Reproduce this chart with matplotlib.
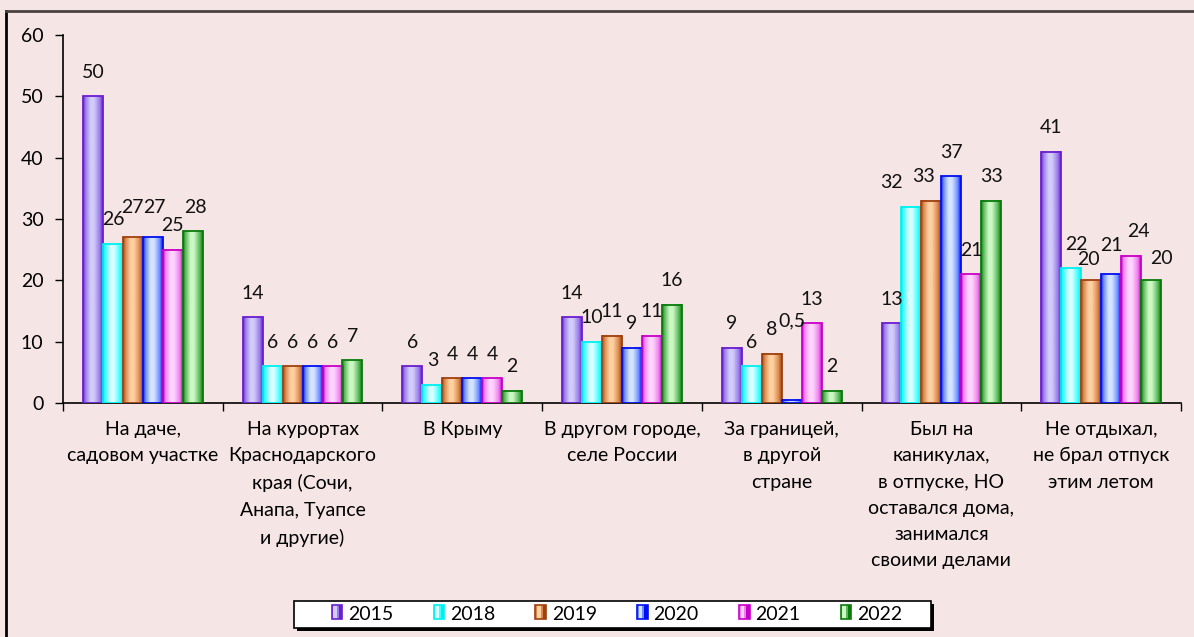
import numpy as np
import matplotlib
matplotlib.use("Agg")
import matplotlib.pyplot as plt
from matplotlib.colors import LinearSegmentedColormap
from matplotlib.patches import Rectangle
from matplotlib.legend_handler import HandlerBase

categories = [
    "На даче,\nсадовом участке",
    "На курортах\nКраснодарского\nкрая (Сочи,\nАнапа, Туапсе\nи другие)",
    "В Крыму",
    "В другом городе,\nселе России",
    "За границей,\nв другой\nстране",
    "Был на\nканикулах,\nв отпуске, НО\nоставался дома,\nзанимался\nсвоими делами",
    "Не отдыхал,\nне брал отпуск\nэтим летом",
]
years = ["2015", "2018", "2019", "2020", "2021", "2022"]
v2015 = [50, 14, 6, 14, 9, 13, 41]
v2018 = [26, 6, 3, 10, 6, 32, 22]
v2019 = [27, 6, 4, 11, 8, 33, 20]
v2020 = [27, 6, 4, 9, 0.5, 37, 21]
v2021 = [25, 6, 4, 11, 13, 21, 24]
v2022 = [28, 7, 2, 16, 2, 33, 20]
series = [v2015, v2018, v2019, v2020, v2021, v2022]
yticks = [0, 10, 20, 30, 40, 50, 60]

# (edge, mid, light)
palette = [
    ("#6A1ED0", "#9A7CE8", "#D2CCFA"),
    ("#00F0F0", "#40FFFF", "#D8FFFF"),
    ("#A0400F", "#D8884E", "#FFD0A0"),
    ("#0010F0", "#6C8CFF", "#D4E4FF"),
    ("#C800C8", "#EE82EE", "#FFD4FF"),
    ("#0A7A0A", "#5CB85C", "#CCF8C4"),
]

# label nudges in pixels (dx, dy) for labels Excel moved
nudges = {
    (0, 2): (0, 6), (0, 3): (2, 6), (0, 5): (3, 0),
    (5, 1): (-20, 0), (5, 2): (-8, 0),
    (4, 3): (0, 55),
    (6, 1): (5, 0), (6, 2): (-3, -3), (6, 3): (0, 5), (6, 4): (7, 0), (6, 5): (10, -2),
}

FS = 14
W, H = 1194, 637
bg = "#F5E5E5"
plt.rcParams["font.family"] = ["Lato", "DejaVu Sans"]
fig = plt.figure(figsize=(W / 100, H / 100), dpi=100, facecolor=bg)
ax = fig.add_axes([63 / W, 1 - 403 / H, (1181 - 63) / W, (403 - 35) / H])
ax.set_facecolor(bg)

n = len(categories)
x = np.arange(n) + 0.5
w = 0.125
grad = np.linspace(0, 1, 64)[None, :]

for j, vals in enumerate(series):
    edge, mid, light = palette[j]
    cmap = LinearSegmentedColormap.from_list(
        f"c{j}", [(0, edge), (0.12, mid), (0.38, light), (0.55, light), (0.85, mid), (1, edge)])
    offs = (j - 2.5) * w
    bars = ax.bar(x + offs, vals, width=w, facecolor="none", edgecolor=edge,
                  linewidth=1.3, zorder=4)
    for i, b in enumerate(bars):
        x0 = b.get_x()
        h = b.get_height()
        ax.imshow(grad, extent=[x0, x0 + w, 0, h], aspect="auto", cmap=cmap,
                  interpolation="bilinear", zorder=3)
        lbl = str(vals[i]).replace(".", ",")
        dx, dy = nudges.get((i, j), (0, 0))
        ax.annotate(lbl, (x0 + w / 2, h), xytext=(dx, 24 + dy),
                    textcoords="offset pixels", ha="center", va="center",
                    fontsize=FS, color="#111111", zorder=6)

ax.set_xlim(0, n)
ax.set_ylim(0, 60)
ax.set_yticks(yticks)
ax.set_yticklabels([str(t) for t in yticks], fontsize=FS)
ax.set_xticks(np.arange(n + 1))
ax.set_xticklabels([])
ax.set_xticks(x, minor=True)
ax.set_xticklabels(categories, minor=True, fontsize=FS, linespacing=1.66,
                   ha="center", va="top")
ax.tick_params(axis="x", which="major", direction="out", length=6, width=1)
ax.tick_params(axis="x", which="minor", length=0, pad=13)
ax.tick_params(axis="y", direction="out", length=6, width=1, pad=8)
for s in ["top", "right"]:
    ax.spines[s].set_visible(False)
for s in ["left", "bottom"]:
    ax.spines[s].set_color("black")
    ax.spines[s].set_linewidth(1.2)


class GradHandler(HandlerBase):
    def __init__(self, j):
        super().__init__()
        self.j = j

    def create_artists(self, legend, orig, xd, yd, width, height, fontsize, trans):
        edge, mid, light = palette[self.j]
        arts = []
        nstrip = 6
        cols = [mid, light, light, mid, edge, edge]
        sw = width / nstrip
        for k in range(nstrip):
            r = Rectangle((xd + k * sw, yd), sw, height, facecolor=cols[k],
                          edgecolor="none", transform=trans)
            arts.append(r)
        r = Rectangle((xd, yd), width, height, facecolor="none", edgecolor=edge,
                      linewidth=1.2, transform=trans)
        arts.append(r)
        return arts


# legend box with dark shadow (Excel style)
bx0, bx1, by0, by1 = 294, 931, 601, 628
fig.add_artist(Rectangle(((bx0 + 3) / W, 1 - (by1 + 3) / H), (bx1 - bx0) / W, (by1 - by0) / H,
                         transform=fig.transFigure, facecolor="black", edgecolor="none", zorder=1))
fig.add_artist(Rectangle((bx0 / W, 1 - by1 / H), (bx1 - bx0) / W, (by1 - by0) / H,
                         transform=fig.transFigure, facecolor="white", edgecolor="black",
                         linewidth=1.2, zorder=2))

handles = [Rectangle((0, 0), 1, 1) for _ in years]
leg = fig.legend(handles, years, loc="center", bbox_to_anchor=(617 / W, 1 - 614 / H),
                 ncol=6, fontsize=FS, frameon=False,
                 handlelength=0.55, handleheight=0.75, handletextpad=0.3,
                 columnspacing=2.06, borderpad=0.2, borderaxespad=0,
                 handler_map={h: GradHandler(j) for j, h in enumerate(handles)})
leg.set_zorder(3)

# outer chart frame (top and left visible)
fig.add_artist(plt.Line2D([6 / W, 6 / W], [0, 1 - 11 / H], color="black",
                          linewidth=2, transform=fig.transFigure))
fig.add_artist(plt.Line2D([6 / W, 1], [1 - 11 / H, 1 - 11 / H], color="#4A4242",
                          linewidth=2, transform=fig.transFigure))

fig.savefig("out.png", dpi=100, facecolor=bg)
